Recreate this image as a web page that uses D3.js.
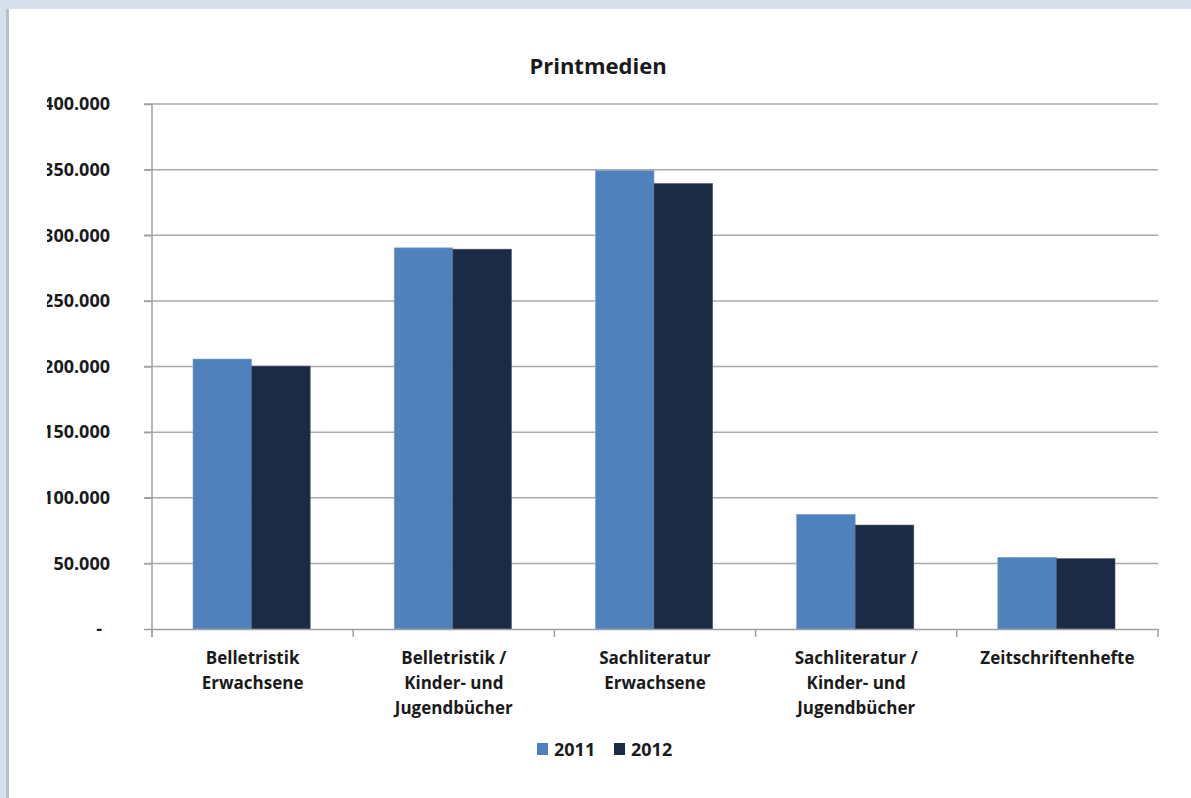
<!DOCTYPE html>
<html>
<head>
<meta charset="utf-8">
<script src="https://cdn.jsdelivr.net/npm/d3@7"></script>
<style>
  body { margin: 0; background: #d6e0ed; }
  svg { display: block; }
  text { font-family: "Open Sans", "Noto Sans", sans-serif; font-weight: bold; fill: #1a1a1a; }
</style>
</head>
<body>
<div class="chart"></div>
<script>
var categories = [
  ["Belletristik", "Erwachsene"],
  ["Belletristik /", "Kinder- und", "Jugendbücher"],
  ["Sachliteratur", "Erwachsene"],
  ["Sachliteratur /", "Kinder- und", "Jugendbücher"],
  ["Zeitschriftenhefte"]
];
var series = ["2011", "2012"];
var values2011 = [205700, 290400, 349300, 87400, 54600];
var values2012 = [200300, 289400, 339400, 79200, 53600];
var yTicks = [0, 50000, 100000, 150000, 200000, 250000, 300000, 350000, 400000];
var colors = ["#4f81bd", "#1b2b46"];

var svgWidth = 1191;
var svgHeight = 798;

var svg = d3.select(".chart")
  .append("svg")
  .attr("width", svgWidth)
  .attr("height", svgHeight);

// white panel with a little shadow on the left
svg.append("rect").attr("x", 6).attr("y", 9).attr("width", 3).attr("height", svgHeight)
  .attr("fill", "#b9bfc8");
svg.append("rect").attr("x", 9).attr("y", 9).attr("width", svgWidth - 9).attr("height", svgHeight - 9)
  .attr("fill", "#ffffff");

var margin = {top: 104, right: 33, bottom: 169, left: 152};
var width = svgWidth - margin.left - margin.right;
var height = svgHeight - margin.top - margin.bottom;

var chartGroup = svg.append("g")
  .attr("transform", `translate(${margin.left}, ${margin.top})`);

var x0 = d3.scaleBand()
  .domain(d3.range(categories.length))
  .range([0, width])
  .paddingInner(0)
  .paddingOuter(0);

var x1 = d3.scaleBand()
  .domain(series)
  .range([41, x0.bandwidth() - 43])
  .padding(0);

var y = d3.scaleLinear()
  .domain([0, 400000])
  .range([height, 0]);

// gridlines
chartGroup.selectAll("line.grid")
  .data(yTicks.slice(1))
  .enter()
  .append("line")
  .attr("class", "grid")
  .attr("x1", -8)
  .attr("x2", width)
  .attr("y1", d => y(d))
  .attr("y2", d => y(d))
  .attr("stroke", "#ababab")
  .attr("stroke-width", 1.5);

// bars
var groups = chartGroup.selectAll("g.cat")
  .data(categories.map((c, i) => ({i: i, v: [values2011[i], values2012[i]]})))
  .enter()
  .append("g")
  .attr("transform", d => `translate(${x0(d.i)}, 0)`);

groups.selectAll("rect")
  .data(d => d.v.map((v, j) => ({s: series[j], v: v, j: j})))
  .enter()
  .append("rect")
  .attr("x", d => x1(d.s))
  .attr("width", x1.bandwidth())
  .attr("y", d => y(d.v))
  .attr("height", d => height - y(d.v))
  .attr("fill", d => colors[d.j])
  .attr("stroke", d => d.j === 0 ? "#7fa3d1" : "#4a5566")
  .attr("stroke-width", 0.6);

// y axis, labels cut off on the left like in the original
var leftAxis = d3.axisLeft(y)
  .tickValues(yTicks)
  .tickSize(8)
  .tickPadding(34)
  .tickFormat(d => d === 0 ? "-" : d3.format(",")(d).replace(/,/g, "."));

svg.append("clipPath").attr("id", "yclip")
  .append("rect").attr("x", 47 - margin.left).attr("y", -20).attr("width", 300).attr("height", height + 40);

var yAxisG = chartGroup.append("g")
  .attr("clip-path", "url(#yclip)")
  .call(leftAxis);
yAxisG.select(".domain").attr("stroke", "#a0a0a0").attr("stroke-width", 1.5).attr("d", `M0,${-1}V${height + 8}`);
yAxisG.selectAll(".tick line").attr("stroke", "#a0a0a0").attr("stroke-width", 1.5);
yAxisG.selectAll(".tick text")
  .style("font-size", "18px")
  .attr("fill", "#1a1a1a")
  .attr("dx", d => d === 0 ? -8 : 0);

// x axis
var bottomAxis = d3.axisBottom(x0).tickSize(0).tickFormat("");
var xAxisG = chartGroup.append("g")
  .attr("transform", `translate(0, ${height})`)
  .call(bottomAxis);
xAxisG.select(".domain").attr("stroke", "#a0a0a0").attr("stroke-width", 1.5);
xAxisG.selectAll("line.sep")
  .data(d3.range(categories.length + 1))
  .enter()
  .append("line")
  .attr("class", "sep")
  .attr("x1", d => d * x0.bandwidth())
  .attr("x2", d => d * x0.bandwidth())
  .attr("y1", 0)
  .attr("y2", 8)
  .attr("stroke", "#a0a0a0")
  .attr("stroke-width", 1.5);

var labels = chartGroup.selectAll("text.xlabel")
  .data(categories)
  .enter()
  .append("text")
  .attr("class", "xlabel")
  .attr("text-anchor", "middle")
  .attr("transform", (d, i) => `translate(${x0(i) + x0.bandwidth() / 2}, ${height + 35})`)
  .style("font-size", "17px");
labels.selectAll("tspan")
  .data(d => d)
  .enter()
  .append("tspan")
  .attr("x", 0)
  .attr("dy", (d, i) => i === 0 ? 0 : 25)
  .text(d => d);

// title
svg.append("text")
  .attr("x", 598)
  .attr("y", 74)
  .attr("text-anchor", "middle")
  .style("font-size", "22px")
  .text("Printmedien");

// legend
var legend = svg.append("g").attr("transform", "translate(537, 743)");
var legendItems = legend.selectAll("g")
  .data(series)
  .enter()
  .append("g")
  .attr("transform", (d, i) => `translate(${i * 77}, 0)`);
legendItems.append("rect")
  .attr("width", 11)
  .attr("height", 12)
  .attr("fill", (d, i) => colors[i]);
legendItems.append("text")
  .attr("x", 17)
  .attr("y", 13)
  .style("font-size", "18px")
  .text(d => d);
</script>
</body>
</html>
